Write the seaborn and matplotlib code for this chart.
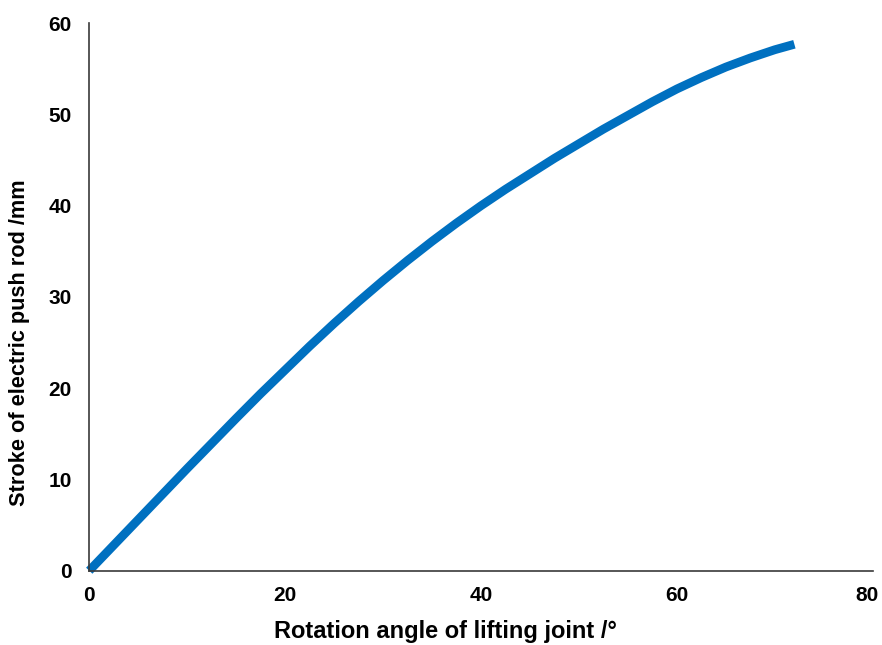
import matplotlib
matplotlib.use("Agg")
import matplotlib.pyplot as plt
import matplotlib.transforms as mtransforms
import seaborn as sns
import pandas as pd

# Rotation angle of the lifting joint (degrees) and the resulting push-rod stroke (mm)
angle_deg = [0, 2.5, 5, 7.5, 10, 12.5, 15, 17.5, 20, 22.5, 25, 27.5, 30, 32.5, 35,
             37.5, 40, 42.5, 45, 47.5, 50, 52.5, 55, 57.5, 60, 62.5, 65, 67.5, 70, 72]
stroke_mm = [0, 2.8, 5.6, 8.4, 11.2, 13.95, 16.7, 19.4, 22.0, 24.6, 27.1, 29.5, 31.8, 34.0, 36.1,
             38.1, 40.0, 41.8, 43.5, 45.2, 46.8, 48.4, 49.9, 51.4, 52.8, 54.05, 55.2, 56.2, 57.1, 57.7]

x_ticks = [0, 20, 40, 60, 80]
y_ticks = [0, 10, 20, 30, 40, 50, 60]

sns.set_style("white")
plt.rcParams["font.family"] = ["Liberation Sans", "DejaVu Sans"]
plt.rcParams["text.color"] = "black"
plt.rcParams["axes.labelcolor"] = "black"

df = pd.DataFrame({"angle": angle_deg, "stroke": stroke_mm})

fig = plt.figure(figsize=(8.82, 6.45), dpi=100)
ax = fig.add_axes([0.1012, 0.1152, 0.8883, 0.8487])

sns.lineplot(data=df, x="angle", y="stroke", ax=ax, color="#0070C0",
             linewidth=6.3, solid_capstyle="butt", solid_joinstyle="round", clip_on=False)

ax.set_xlim(0, 80)
ax.set_ylim(0, 60)
ax.set_xticks(x_ticks)
ax.set_yticks(y_ticks)

for side in ("top", "right"):
    ax.spines[side].set_visible(False)
for side in ("left", "bottom"):
    ax.spines[side].set_color("#3a3a3a")
    ax.spines[side].set_linewidth(1.2)

ax.tick_params(axis="both", direction="in", length=6, width=1.2, color="#3a3a3a",
               labelsize=15, labelcolor="black")
ax.tick_params(axis="x", pad=11)
ax.tick_params(axis="y", pad=12.5)
for lbl in ax.get_xticklabels() + ax.get_yticklabels():
    lbl.set_fontweight("bold")

# nudge the last x tick label inward so it stays inside the figure
last = ax.get_xticklabels()[-1]
last.set_transform(last.get_transform() +
                   mtransforms.ScaledTranslation(-5.5 / 100, 0, fig.dpi_scale_trans))

ax.set_xlabel("Rotation angle of lifting joint /°", fontsize=17, fontweight="bold", color="black")
ax.set_ylabel("Stroke of electric push rod /mm", fontsize=15.7, fontweight="bold", color="black")
ax.xaxis.set_label_coords(0.455, -0.090)
ax.yaxis.set_label_coords(-0.075, 0.417)

fig.savefig("out.png", dpi=100)
